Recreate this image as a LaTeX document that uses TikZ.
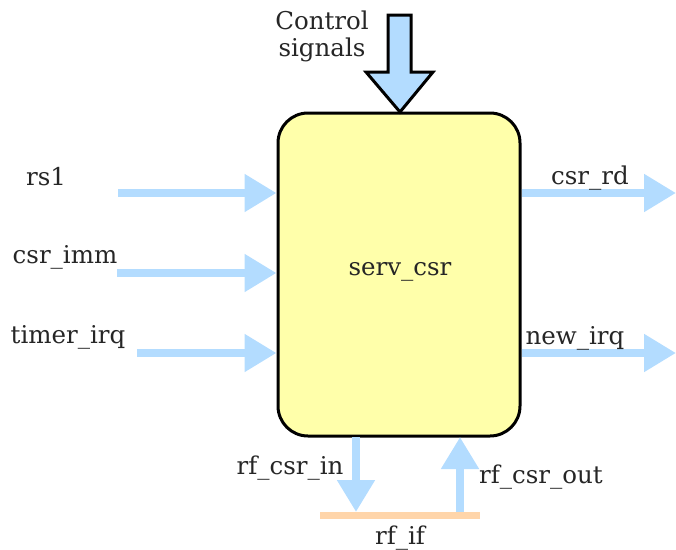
\documentclass[tikz,border=0pt]{standalone}
\usepackage{fontspec}
\setmainfont{DejaVu Serif}
\usetikzlibrary{arrows.meta}
\definecolor{sigblue}{HTML}{B3DCFF}
\definecolor{boxyellow}{HTML}{FFFFAA}
\definecolor{peach}{HTML}{FFD5AA}
\begin{document}
\begin{tikzpicture}[x=1pt,y=-1pt,
  lbl/.style={font=\fontsize{24.5}{27}\selectfont, text=black!85, inner sep=0pt},
  sig/.style={draw=sigblue, line width=8pt, -{Triangle[length=32pt,width=36pt]}},
]
\useasboundingbox (0,0) rectangle (676,549);
% main block
\node (csr) [draw=black, line width=3pt, fill=boxyellow, rounded corners=30pt,
  minimum width=242pt, minimum height=323pt, inner sep=0pt] at (399,274.5) {};
\node (csrlbl) [lbl] at (400,272) {serv\_csr};
% control signals block arrow
\filldraw[fill=sigblue, draw=black, line width=3pt, line join=miter]
  (388,15) -- (411,15) -- (411,72) -- (433,72) -- (400,112) -- (366,72) -- (388,72) -- cycle;
\node (ctrl) [lbl, align=center] at (322,36) {Control\\signals};
% input arrows
\coordinate (rs1s) at (118,193);
\coordinate (immS) at (117,273);
\coordinate (tirqS) at (137,353);
\draw[sig] (rs1s) -- (csr.west |- rs1s);
\draw[sig] (immS) -- (csr.west |- immS);
\draw[sig] (tirqS) -- (csr.west |- tirqS);
\node (rs1) [lbl] at (46,177) {rs1};
\node (imm) [lbl] at (65,257) {csr\_imm};
\node (tirq) [lbl] at (68,337) {timer\_irq};
% output arrows
\coordinate (rdE) at (676,193);
\coordinate (nirqE) at (676,353);
\draw[sig] (csr.east |- rdE) -- (rdE);
\draw[sig] (csr.east |- nirqE) -- (nirqE);
\node (rd) [lbl] at (590,178) {csr\_rd};
\node (nirq) [lbl] at (575,338) {new\_irq};
% rf interface
\coordinate (rfL) at (320,515);
\coordinate (rfR) at (480,515);
\draw[peach, line width=7pt] (rfL) -- (rfR);
\coordinate (inT) at (356,437);
\coordinate (inB) at (356,512);
\coordinate (outB) at (460,512);
\coordinate (outT) at (460,437);
\draw[sig] (inT) -- (inB);
\draw[sig] (outB) -- (outT);
\node (rfin) [lbl] at (290,468) {rf\_csr\_in};
\node (rfout) [lbl] at (541,477) {rf\_csr\_out};
\node (rfif) [lbl] at (400,538) {rf\_if};
\end{tikzpicture}
\end{document}
